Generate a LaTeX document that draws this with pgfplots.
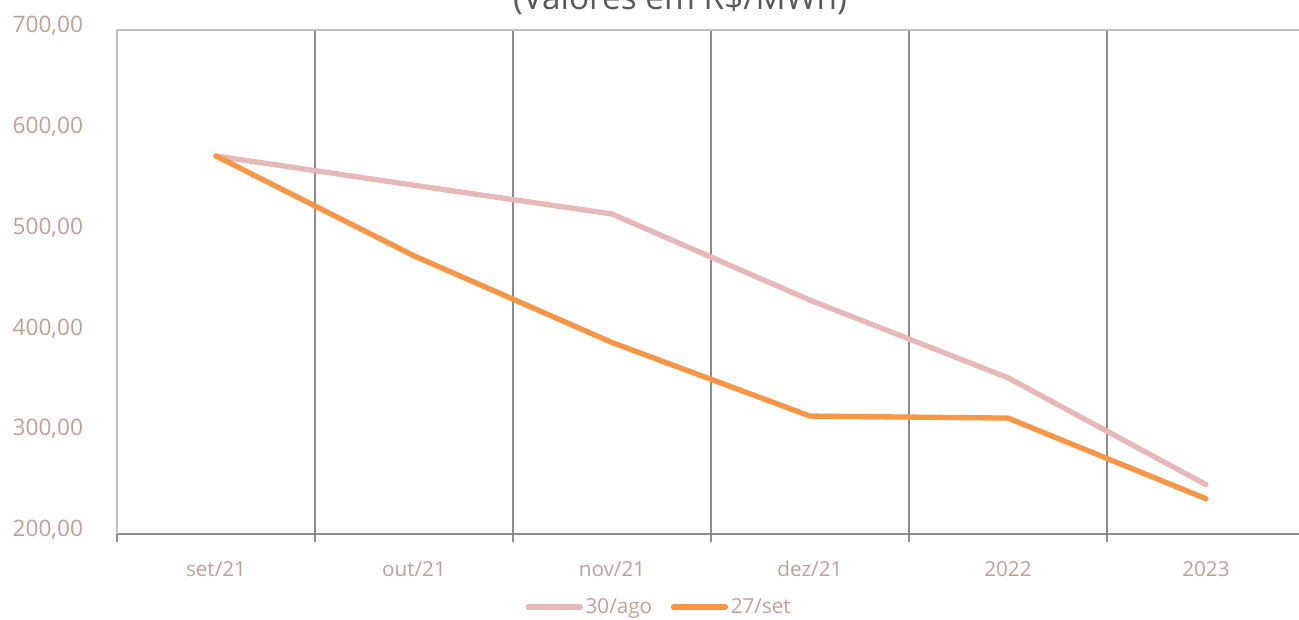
\documentclass[border=0pt]{standalone}
\usepackage{fontspec}
\setmainfont{Open Sans}
\usepackage{pgfplots}
\pgfplotsset{compat=1.18}
\definecolor{lab}{HTML}{C29F95}
\definecolor{gridc}{HTML}{8C8C8C}
\definecolor{lightc}{HTML}{C0C0C0}
\definecolor{pinkc}{HTML}{E6B9B8}
\definecolor{orangec}{HTML}{F79646}
\definecolor{titlec}{HTML}{595959}
\begin{document}
\begin{tikzpicture}[x=1pt,y=1pt]
\path[use as bounding box, clip] (-87.75,-63.75) rectangle (886.5,400.5);
\begin{axis}[at={(0,0)}, anchor=south west, scale only axis,
  width=886.5pt, height=378pt,
  xmin=-0.5, xmax=5.47, ymin=200, ymax=700,
  axis x line*=bottom, axis y line*=left,
  x axis line style={-, draw=gridc, line width=1.3pt},
  y axis line style={-, draw=lightc, line width=1.3pt},
  xtick={0,...,5}, xticklabels={set/21,out/21,nov/21,dez/21,2022,2023},
  major tick length=0pt,
  tick align=outside,
  minor xtick={0.5,1.5,2.5,3.5,4.5},
  minor tick length=6pt,
  minor x tick style={draw=gridc, line width=1.3pt},
  xminorgrids, minor x grid style={draw=gridc, line width=1.3pt},
  extra x ticks={-0.5}, extra x tick labels={},
  extra x tick style={grid=none, major tick length=6pt, tick style={draw=gridc, line width=1.3pt}},
  ytick={200,300,...,700},
  extra y ticks={700}, extra y tick labels={},
  extra y tick style={grid=major, major grid style={draw=lightc, line width=1.3pt}},
  /pgf/number format/.cd, fixed, fixed zerofill, precision=2, use comma, 1000 sep={}, assume math mode=true,
  /pgfplots/.cd,
  yticklabel style={font=\fontsize{17}{20}\selectfont, color=lab, anchor=east, xshift=-22pt, yshift=3pt},
  xticklabel style={font=\fontsize{15.5}{18}\selectfont, color=lab, anchor=north, yshift=-16pt, text height=12pt, text depth=4pt},
  legend style={at={(0.459,-0.145)}, anchor=center, draw=none, fill=none,
    legend columns=2, font=\fontsize{15.5}{18}\selectfont\color{lab},
    /tikz/every even column/.append style={column sep=12pt},
    inner sep=0pt},
  legend image code/.code={\draw[#1, line width=4pt, line cap=round] (0pt,0pt) -- (39pt,0pt);},
  clip=false,
]
\addplot[pinkc, line width=4pt, line cap=round, line join=round] coordinates {
  (0,575) (1,546) (2,517.5) (3,432) (4,355) (5,249)};
\addlegendentry{30/ago}
\addplot[orangec, line width=4pt, line cap=round, line join=round] coordinates {
  (0,575) (1,476) (2,390) (3,317) (4,315) (5,235)};
\addlegendentry{27/set}
\end{axis}
\node[anchor=base, font=\fontsize{25}{28}\selectfont, text=titlec] at (422.25,393) {(Valores em R\$/MWh)};
\end{tikzpicture}
\end{document}
